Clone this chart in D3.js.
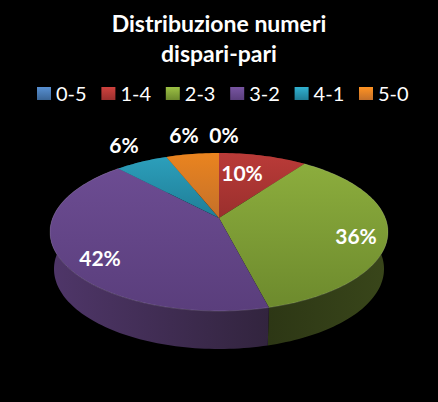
<!DOCTYPE html>
<html>
<head>
<meta charset="utf-8">
<title>Distribuzione numeri dispari-pari</title>
<style>
html, body { margin: 0; padding: 0; background: #000; }
svg { display: block; }
text { font-family: Lato, "Open Sans", sans-serif; fill: #fff; }
</style>
</head>
<body>
<svg width="438" height="402"></svg>
<script src="https://d3js.org/d3.v7.min.js"></script>
<script>
var categories = ['0-5', '1-4', '2-3', '3-2', '4-1', '5-0'];
var percents = [0, 10, 36, 42, 6, 6];
var titleLines = ['Distribuzione numeri', 'dispari-pari'];

// colours: [top of slice, bottom of slice]
var topColors = [['#4f81bd', '#3a6596'], ['#ba3b38', '#9a2f2d'], ['#8cad3d', '#6d8a2d'],
	['#6c4c92', '#5a3e7c'], ['#2c9fbb', '#1f7d96'], ['#ea841f', '#c4702a']];
var wallColors = [['#2b4567', '#233955'], ['#662220', '#4f1a19'], ['#2d3715', '#39461a'],
	['#4f3669', '#32243e'], ['#1b5a6b', '#164a58'], ['#7d4a16', '#643b12']];

// label spots sit off the slices, like the original
var labelSpots = [[224, 134], [242, 172], [356, 235], [100, 257], [124, 144], [184, 134]];

var svg = d3.select('svg');
var defs = svg.append('defs');

// the pie is a tilted disc: a homography takes the flat circle to the screen
var tilt = 14 / 79;
function projector(cx, cy, rx, ry) {
	var a = rx * Math.sqrt(1 - tilt * tilt), c = ry * tilt;
	return function(angle, r) {
		var x = r * Math.sin(angle), y = r * Math.cos(angle), d = 1 + tilt * y;
		return [cx + a * x / d, cy - (ry * y + c) / d];
	};
}
var topDisc = projector(219, 232, 169, 79);
var lowDisc = projector(219, 269, 165, 80);

var slices = d3.pie().sort(null).value(function(d) {return d;})(percents);
var line = d3.line();

function rim(disc, s) {
	var n = Math.max(2, Math.ceil((s.endAngle - s.startAngle) * 40));
	return d3.range(n + 1).map(function(i) {
		return disc(s.startAngle + (s.endAngle - s.startAngle) * i / n, 1);
	});
}

function gradient(id, c, x1, y1, x2, y2) {
	var g = defs.append('linearGradient').attr('id', id)
		.attr('gradientUnits', 'userSpaceOnUse')
		.attr('x1', x1).attr('y1', y1).attr('x2', x2).attr('y2', y2);
	g.append('stop').attr('offset', 0).attr('stop-color', c[0]);
	g.append('stop').attr('offset', 1).attr('stop-color', c[1]);
}

// walls first, the top face covers whatever is behind
slices.forEach(function(s, i) {
	var upper = rim(topDisc, s), lower = rim(lowDisc, s).reverse();
	var xs = d3.extent(upper, function(p) {return p[0];});
	gradient('wall' + i, wallColors[i], xs[0], 0, xs[1], 0);
	svg.append('path')
		.attr('d', line(upper.concat(lower)) + 'Z')
		.attr('fill', 'url(#wall' + i + ')');
});

// top faces, each shaded over its own height
slices.forEach(function(s, i) {
	var pts = [topDisc(0, 0)].concat(rim(topDisc, s));
	var ys = d3.extent(pts, function(p) {return p[1];});
	gradient('face' + i, topColors[i], 0, ys[0], 0, ys[1]);
	svg.append('path')
		.attr('d', line(pts) + 'Z')
		.attr('fill', 'url(#face' + i + ')')
		.attr('stroke', s.value === 0 ? '#4a1512' : 'none')
		.attr('stroke-width', s.value === 0 ? 1 : 0);
});

// thin light bevel along the front rim
slices.forEach(function(s, i) {
	if (i < 2 || i > 3) return;
	svg.append('path')
		.attr('d', line(rim(topDisc, s)))
		.attr('fill', 'none')
		.attr('stroke', '#fff')
		.attr('stroke-opacity', 0.18)
		.attr('stroke-width', 0.8);
});

// title
svg.selectAll('.title').data(titleLines).enter().append('text')
	.attr('class', 'title')
	.attr('x', 219)
	.attr('y', function(d, i) {return 32 + i * 30;})
	.attr('text-anchor', 'middle')
	.attr('font-size', 23)
	.attr('font-weight', 700)
	.text(function(d) {return d;});

// legend
var legendX = d3.scalePoint().domain(categories).range([37, 359]);
var legend = svg.selectAll('.key').data(categories).enter().append('g')
	.attr('class', 'key')
	.attr('transform', function(d) {return 'translate(' + legendX(d) + ',87)';});
categories.forEach(function(c, i) {
	gradient('swatch' + i, [d3.color(topColors[i][0]).brighter(0.3), topColors[i][1]], 0, 0, 0, 13);
});
legend.append('rect')
	.attr('width', 14).attr('height', 13)
	.attr('fill', function(d, i) {return 'url(#swatch' + i + ')';});
legend.append('text')
	.attr('x', 19).attr('y', 13.5)
	.attr('font-size', 20)
	.text(function(d) {return d;});

// data labels
svg.selectAll('.pct').data(percents).enter().append('text')
	.attr('class', 'pct')
	.attr('x', function(d, i) {return labelSpots[i][0];})
	.attr('y', function(d, i) {return labelSpots[i][1];})
	.attr('text-anchor', 'middle')
	.attr('dominant-baseline', 'central')
	.attr('font-size', 21)
	.attr('font-weight', 700)
	.text(function(d) {return d + '%';});
</script>
</body>
</html>
